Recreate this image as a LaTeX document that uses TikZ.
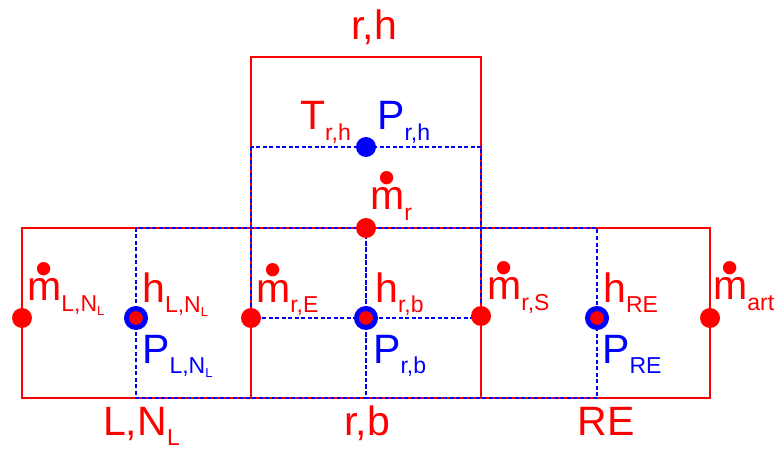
\documentclass[tikz,border=0pt]{standalone}
\usepackage{fontspec}
\setmainfont{Liberation Sans}
\usepackage{xcolor}
\usepackage{graphicx}
\definecolor{CellRed}{RGB}{255,0,0}
\definecolor{CVBlue}{RGB}{0,0,255}
\newcommand{\mdot}{\ooalign{m\cr\hidewidth\raisebox{0.37em}{\scalebox{1.2}{\textbullet}}\hidewidth\cr}}
\newcommand{\sub}[1]{\raisebox{-0.25em}{\fontsize{23}{23}\selectfont #1}}
\newcommand{\subsub}[1]{\raisebox{-0.2em}{\fontsize{13}{13}\selectfont #1}}

\begin{document}
\begin{tikzpicture}[
x=1pt,y=-1pt,
cell/.style={draw=CellRed,line width=2pt},
cvol/.style={draw=CVBlue,line width=2pt,dash pattern=on 4pt off 2.5pt},
flowpt/.style={circle,fill=CellRed,minimum size=20pt,inner sep=0pt},
hpt/.style={circle,fill=CellRed,draw=CVBlue,line width=5pt,minimum size=19pt,inner sep=0pt},
ppt/.style={circle,fill=CVBlue,minimum size=20pt,inner sep=0pt},
lab/.style={inner sep=0pt,text=CellRed,font=\fontsize{41}{44}\selectfont},
plab/.style={lab,text=CVBlue}
]
\useasboundingbox (0,0) rectangle (777,449);

% cells
\draw[cell] (22,228) rectangle (251,398);
\draw[cell] (251,228) rectangle (481,398);
\draw[cell] (481,228) rectangle (710,398);
\draw[cell] (251,57) rectangle (481,228);

% control volumes
\draw[cvol] (136,228) rectangle (366,398);
\draw[cvol] (366,228) rectangle (597,398);
\draw[cvol] (251,147) rectangle (481,318);

% points
\node[flowpt] (mL) at (22,318) {};
\node[flowpt] (mrE) at (251,318) {};
\node[flowpt] (mr) at (366,228) {};
\node[flowpt] (mrS) at (481,316) {};
\node[flowpt] (mart) at (710,318) {};
\node[hpt] (hL) at (136,318) {};
\node[hpt] (hrb) at (366,318) {};
\node[hpt] (hRE) at (597,318) {};
\node[ppt] (Prh) at (366,147) {};

% labels
\node[lab,anchor=base] (rh) at (374,40) {r,h};
\node[lab,anchor=base] (rb) at (367,435) {r,b};
\node[lab,anchor=base west] (LN) at (103,435) {L,N\sub{L}};
\node[lab,anchor=base] (RE) at (606,435) {RE};

\node[lab,anchor=base west] (Trh) at (300,130) {T\sub{r,h}};
\node[plab,anchor=base west] (Prhl) at (377,130) {P\sub{r,h}};
\node[lab,anchor=base west] (mrl) at (370,210) {\mdot\sub{r}};

\node[lab,anchor=base west] (mLl) at (27,301) {\mdot\sub{L,N\subsub{L}}};
\node[lab,anchor=base west] (hLl) at (142,302) {h\sub{L,N\subsub{L}}};
\node[plab,anchor=base west] (PLl) at (142,363) {P\sub{L,N\subsub{L}}};

\node[lab,anchor=base west] (mrEl) at (256,302) {\mdot\sub{r,E}};
\node[lab,anchor=base west] (hrbl) at (375,302) {h\sub{r,b}};
\node[plab,anchor=base west] (Prbl) at (373,363) {P\sub{r,b}};

\node[lab,anchor=base west] (mrSl) at (487,300) {\mdot\sub{r,S}};
\node[lab,anchor=base west] (hREl) at (603,302) {h\sub{RE}};
\node[plab,anchor=base west] (PREl) at (602,363) {P\sub{RE}};

\node[lab,anchor=base west] (martl) at (713,300) {\mdot\sub{art}};
\end{tikzpicture}
\end{document}
